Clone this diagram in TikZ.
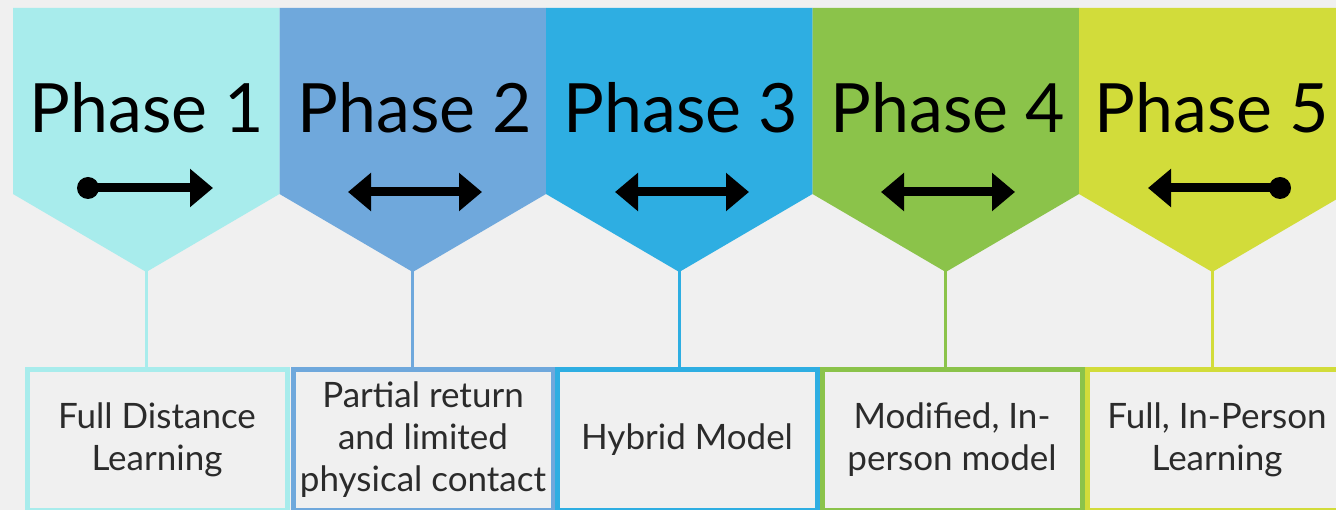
\documentclass[tikz,border=0pt]{standalone}
\usepackage{fontspec}
\setmainfont{Lato}
\usetikzlibrary{arrows.meta}
\definecolor{bgc}{HTML}{F0F0F0}
\definecolor{pA}{HTML}{A8ECEC}
\definecolor{pB}{HTML}{6FA8DC}
\definecolor{pC}{HTML}{2EAEE2}
\definecolor{pD}{HTML}{8BC34A}
\definecolor{pE}{HTML}{D2DC3A}
\definecolor{txt}{HTML}{2B2B2B}
\tikzset{
  phasetitle/.style={anchor=base, font=\fontsize{68}{72}\selectfont, text=black, inner sep=0pt},
  infobox/.style={draw=#1, line width=5pt, fill=bgc, minimum width=260pt, minimum height=140pt, anchor=north west,
     align=center, text=txt, font=\fontsize{35}{42}\selectfont, inner sep=0pt},
  link/.style={draw=#1, line width=3pt},
  harrow/.style={line width=9pt, draw=black},
  tipR/.style={-{Triangle[length=23pt,width=37pt]}},
  tipL/.style={{Triangle[length=23pt,width=37pt]}-},
  tipLR/.style={{Triangle[length=23pt,width=37pt]}-{Triangle[length=23pt,width=37pt]}},
}
\begin{document}
\begin{tikzpicture}[x=1pt,y=-1pt]
\useasboundingbox (0,0) rectangle (1336,510);
\fill[bgc] (0,0) rectangle (1336,510);
\clip (0,0) rectangle (1336,510);
% pentagons
\foreach \i/\c in {0/pA,1/pB,2/pC,3/pD,4/pE}{
  \pgfmathsetmacro{\xl}{13+266.5*\i}
  \pgfmathsetmacro{\xr}{13+266.5*(\i+1)}
  \pgfmathsetmacro{\xm}{13+266.5*(\i+0.5)}
  \fill[\c] (\xl,8) -- (\xr,8) -- (\xr,194) -- (\xm,272) -- (\xl,194) -- cycle;
}
\coordinate (t1) at (146.25,270);
\coordinate (t2) at (412.75,270);
\coordinate (t3) at (679.25,270);
\coordinate (t4) at (945.75,270);
\coordinate (t5) at (1212.25,270);
% titles
\node[phasetitle] (h1) at (147,133) {Phase 1};
\node[phasetitle] (h2) at (415,133) {Phase 2};
\node[phasetitle] (h3) at (681,133) {Phase 3};
\node[phasetitle] (h4) at (948,133) {Phase 4};
\node[phasetitle] (h5) at (1212,133) {Phase 5};
% arrows
\draw[harrow, tipR] (88,188) -- (213,188);
\fill (88,188) circle (11);
\draw[harrow, tipLR] (348,192) -- (482,192);
\draw[harrow, tipLR] (615,192) -- (749,192);
\draw[harrow, tipLR] (881,192) -- (1015,192);
\draw[harrow, tipL] (1148,188) -- (1280,188);
\fill (1280,188) circle (11);
% boxes
\node[infobox=pA] (b1) at (24.5,367.5) {Full Distance\\Learning};
\node[infobox=pB] (b2) at (290.5,367.5) {Partial return\\and limited\\physical contact};
\node[infobox=pC] (b3) at (554.5,367.5) {Hybrid Model};
\node[infobox=pD] (b4) at (819.5,367.5) {Modified, In-\\person model};
\node[infobox=pE] (b5) at (1084.5,367.5) {Full, In-Person\\Learning};
% links
\draw[link=pA] (t1) -- (t1 |- b1.north);
\draw[link=pB] (t2) -- (t2 |- b2.north);
\draw[link=pC] (t3) -- (t3 |- b3.north);
\draw[link=pD] (t4) -- (t4 |- b4.north);
\draw[link=pE] (t5) -- (t5 |- b5.north);
\end{tikzpicture}
\end{document}
